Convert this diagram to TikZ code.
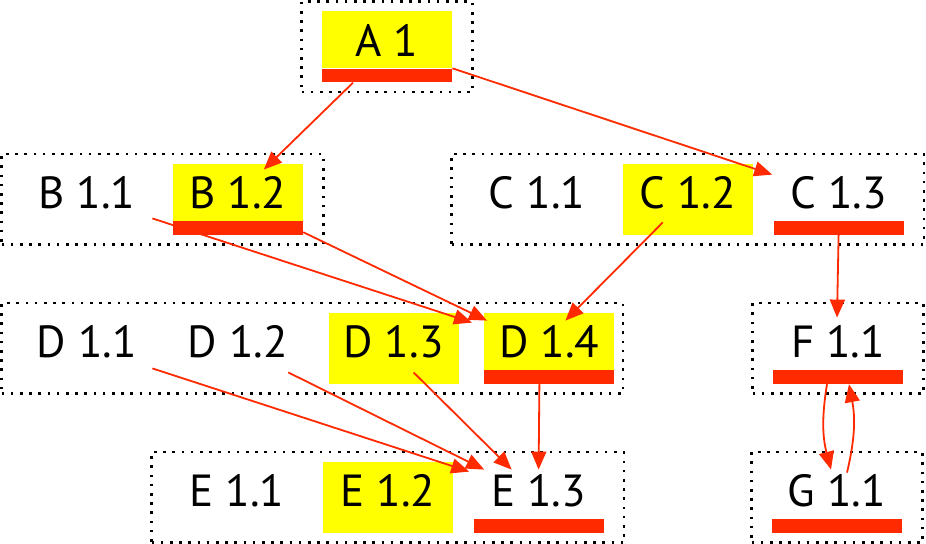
\documentclass[tikz,border=0pt]{standalone}
\usepackage{fontspec}
\setmainfont{PT Sans}
\usepackage{tikz}
\usetikzlibrary{arrows.meta,positioning,calc,fit}
\definecolor{hlyellow}{RGB}{255,255,0}
\definecolor{donered}{RGB}{255,42,0}

\begin{document}
\begin{tikzpicture}[
  x=0.5pt, y=-0.5pt,
  node distance=10pt,
  cell/.style={minimum width=65pt, minimum height=28.5pt, inner sep=0pt,
    font=\fontsize{22.5pt}{27pt}\selectfont},
  hl/.style={cell, fill=hlyellow},
  ubar/.style={fill=donered, minimum width=65pt, minimum height=6.8pt, inner sep=0pt},
  ext/.style={fill=hlyellow, minimum width=65pt, minimum height=6.8pt, inner sep=0pt},
  group/.style={draw, line width=1.3pt, dash pattern=on 1.3pt off 3.3pt,
    inner xsep=10pt, inner ysep=4.75pt},
  link/.style={donered, line width=0.9pt, -{Triangle[length=9pt,width=7.5pt]}}
]
  \useasboundingbox (0,0) rectangle (926,544);

  % rows of versions
  \node[hl] (a1) at (387,40) {A 1};
  \node[cell] (b11) at (87,192.5) {B 1.1};
  \node[hl, right=of b11] (b12) {B 1.2};
  \node[cell] (c11) at (537,192.5) {C 1.1};
  \node[hl, right=of c11] (c12) {C 1.2};
  \node[cell, right=of c12] (c13) {C 1.3};
  \node[cell] (d11) at (87,341.5) {D 1.1};
  \node[cell, right=of d11] (d12) {D 1.2};
  \node[hl, right=12.5pt of d12] (d13) {D 1.3};
  \node[hl, right=12.5pt of d13] (d14) {D 1.4};
  \node[cell] (f11) at (838,341.5) {F 1.1};
  \node[cell] (e11) at (237,490.5) {E 1.1};
  \node[hl, right=of e11] (e12) {E 1.2};
  \node[cell, right=of e12] (e13) {E 1.3};
  \node[cell] (g11) at (837,490.5) {G 1.1};

  % underlines and yellow extensions
  \node[ubar, below=-0.3pt of a1] (a1u) {};
  \node[ubar, below=-0.3pt of b12] (b12u) {};
  \node[ubar, below=-0.3pt of c13] (c13u) {};
  \node[ubar, below=-0.3pt of d14] (d14u) {};
  \node[ubar, below=-0.3pt of f11] (f11u) {};
  \node[ubar, below=-0.3pt of e13] (e13u) {};
  \node[ubar, below=-0.3pt of g11] (g11u) {};
  \node[ext, below=-0.3pt of c12] (c12x) {};
  \node[ext, below=-0.3pt of d13] (d13x) {};
  \node[ext, below=-0.3pt of e12] (e12x) {};

  % dotted groups
  \node[group, fit=(a1)(a1u)] (ga) {};
  \node[group, fit=(b11)(b12)(b12u)] (gb) {};
  \node[group, fit=(c11)(c13)(c13u)] (gc) {};
  \node[group, fit={(d11) ($(d14u.south east)+(-12,0)$)}] (gd) {};
  \node[group, fit=(f11)(f11u)] (gf) {};
  \node[group, fit=(e11)(e13)(e13u)] (ge) {};
  \node[group, fit=(g11)(g11u)] (gg) {};

  % links
  \draw[link] ($(a1u.south)+(-34,0)$) -- ($(b12.north)+(26,6)$);
  \draw[link] (a1u.north east) -- ($(c13.north west)+(-1,11)$);
  \draw[link] ($(b11.south east)+(0,-3)$) -- ($(d14.north west)+(-12,10)$);
  \draw[link] ($(b12u.south east)+(0,-3)$) -- ($(d14.north west)+(3,8)$);
  \draw[link] ($(c12.south)+(-25,1)$) -- ($(d14.north)+(16,8)$);
  \draw[link] (c13u.south) -- ($(f11.north)+(-1,5)$);
  \draw[link] ($(d11.south east)+(0,-2)$) -- ($(e13.north west)+(-4,10)$);
  \draw[link] ($(d12.south east)+(-15,2)$) -- ($(e13.north west)+(11,8)$);
  \draw[link] ($(d13.south)+(20,2)$) -- ($(e13.north)+(-27,8)$);
  \draw[link] ($(d14u.south)+(-10,0)$) -- ($(e13.north)+(0,8)$);
  \draw[link] ($(f11u.south)+(-11,0)$) to[bend right=12] ($(g11.north)+(-6,8)$);
  \draw[link] ($(g11.north)+(10,11)$) to[bend right=12] ($(f11u.south)+(11,0)$);
\end{tikzpicture}
\end{document}
